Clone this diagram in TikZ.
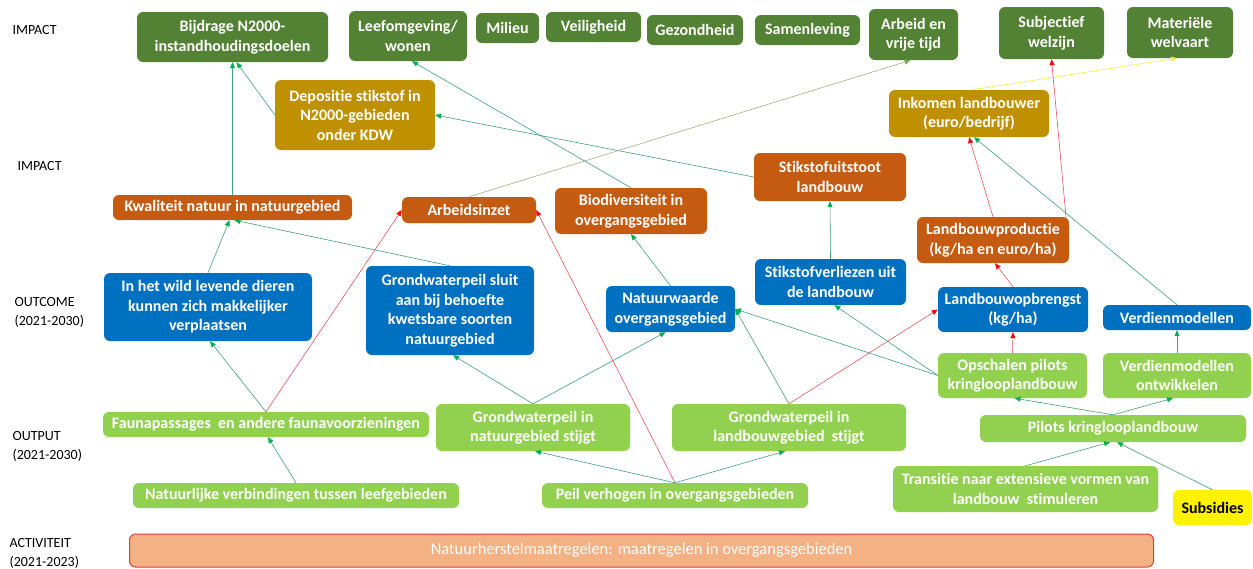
\documentclass[tikz,border=0pt]{standalone}
\usepackage{fontspec}
\setmainfont[Ligatures=NoCommon]{Carlito}
\usetikzlibrary{arrows.meta}
\definecolor{impgreen}{HTML}{548235}
\definecolor{impgold}{HTML}{BF9000}
\definecolor{efforange}{HTML}{C55A11}
\definecolor{outblue}{HTML}{0070C0}
\definecolor{outgreen}{HTML}{92D050}
\definecolor{actfill}{HTML}{F4B183}
\definecolor{actline}{HTML}{D84040}
\definecolor{linkgreen}{HTML}{3F9F7A}
\definecolor{tipgreen}{HTML}{00B050}
\definecolor{linkred}{HTML}{E8545A}
\definecolor{linkolive}{HTML}{A3AC7E}
\definecolor{tipolive}{HTML}{7AA85A}
\definecolor{linkyellow}{HTML}{F2EE3A}

\tikzset{
  wh/.style 2 args={minimum width=#1pt,minimum height=#2pt},
  box/.style={rounded corners=6pt,align=center,text=white,inner sep=1pt,
    font=\bfseries\fontsize{16}{19.5}\selectfont},
  impbox/.style={box,fill=impgreen},
  goldbox/.style={box,fill=impgold},
  effbox/.style={box,fill=efforange},
  outcbox/.style={box,fill=outblue},
  outpbox/.style={box,fill=outgreen},
  level/.style={anchor=west,align=left,font=\fontsize{14}{19}\selectfont},
  link/.style={draw=linkgreen,line width=0.6pt,-{Triangle[length=6pt,width=5pt,color=tipgreen]}},
  redlink/.style={draw=linkred,line width=0.6pt,-{Triangle[length=6pt,width=5pt,color=red]}},
}

\begin{document}
\begin{tikzpicture}[x=1pt,y=-1pt]
  \useasboundingbox (0,0) rectangle (1253,568);

  % levels
  \node[level] (lv1) at (9,30) {IMPACT};
  \node[level] (lv2) at (14,166) {IMPACT};
  \node[level] (lv3) at (11,312) {OUTCOME\\(2021-2030)};
  \node[level] (lv4) at (9,446) {OUTPUT\\(2021-2030)};
  \node[level] (lv5) at (6,553) {ACTIVITEIT\\(2021-2023)};

  % impact (top row)
  \node[impbox,wh={191}{50}] (bijd) at (232.5,37) {Bijdrage N2000-\\instandhoudingsdoelen};
  \node[impbox,wh={118}{50}] (leef) at (408,36) {Leefomgeving/\\wonen};
  \node[impbox,wh={63}{30}] (mil) at (507.5,28) {Milieu};
  \node[impbox,wh={95}{30}] (veil) at (593.5,27) {Veiligheid};
  \node[impbox,wh={96}{30}] (gez) at (695,30) {Gezondheid};
  \node[impbox,wh={105}{30}] (samen) at (807.5,30) {Samenleving};
  \node[impbox,wh={89}{51}] (arb) at (913.5,34.5) {Arbeid en\\vrije tijd};
  \node[impbox,wh={105}{52}] (subj) at (1051.5,33) {Subjectief\\welzijn};
  \node[impbox,wh={106}{51}] (mat) at (1180,32.5) {Materiële\\welvaart};

  \node[goldbox,wh={160}{70}] (depo) at (355,115) {Depositie stikstof in\\N2000-gebieden\\onder KDW};
  \node[goldbox,wh={160}{47}] (inkom) at (969,113.5) {Inkomen landbouwer\\(euro/bedrijf)};

  % impact (second row)
  \node[effbox,wh={239}{25}] (kwal) at (232.5,207.5) {Kwaliteit natuur in natuurgebied};
  \node[effbox,wh={134}{26}] (arbinz) at (469,210) {Arbeidsinzet};
  \node[effbox,wh={152}{46}] (biod) at (631,211) {Biodiversiteit in\\overgangsgebied};
  \node[effbox,wh={152}{48}] (stuit) at (830,177) {Stikstofuitstoot\\landbouw};
  \node[effbox,wh={152}{46}] (lprod) at (993,240) {Landbouwproductie\\(kg/ha en euro/ha)};

  % outcome
  \node[outcbox,wh={208}{68}] (wild) at (208,307) {In het wild levende dieren\\kunnen zich makkelijker\\verplaatsen};
  \node[outcbox,wh={168}{89}] (gws) at (450,310.5) {Grondwaterpeil sluit\\aan bij behoefte\\kwetsbare soorten\\natuurgebied};
  \node[outcbox,wh={129}{46}] (natw) at (670.5,309) {Natuurwaarde\\overgangsgebied};
  \node[outcbox,wh={151}{46}] (stver) at (830.5,282) {Stikstofverliezen uit\\de landbouw};
  \node[outcbox,wh={150}{45}] (lopb) at (1013,309.5) {Landbouwopbrengst\\(kg/ha)};
  \node[outcbox,wh={148}{25}] (verd) at (1177,317.5) {Verdienmodellen};

  % output
  \node[outpbox,wh={326}{25}] (fauna) at (266,424.5) {Faunapassages\ \ en andere faunavoorzieningen};
  \node[outpbox,wh={194}{47}] (gwn) at (533,427.5) {Grondwaterpeil in\\natuurgebied stijgt};
  \node[outpbox,wh={234}{47}] (gwl) at (789,427.5) {Grondwaterpeil in\\landbouwgebied\ \ stijgt};
  \node[outpbox,wh={149}{45}] (opsch) at (1012.5,375.5) {Opschalen pilots\\kringlooplandbouw};
  \node[outpbox,wh={148}{45}] (vontw) at (1177,375.5) {Verdienmodellen\\ontwikkelen};
  \node[outpbox,wh={266}{27}] (pilots) at (1113,428.5) {Pilots kringlooplandbouw};
  \node[outpbox,wh={326}{25}] (natver) at (296,495.5) {Natuurlijke verbindingen tussen leefgebieden};
  \node[outpbox,wh={266}{25}] (peil) at (675,495.5) {Peil verhogen in overgangsgebieden};
  \node[outpbox,wh={265}{46}] (trans) at (1025.5,489) {Transitie naar extensieve vormen van\\landbouw\ \ stimuleren};
  \node[box,fill=yellow,text=black,wh={79}{35}] (subs) at (1212.5,507.5) {Subsidies};

  % activiteit
  \node[box,fill=actfill,draw=actline,line width=1pt,wh={1024}{33}] (act) at (641.5,550.5)
    {\mdseries\fontsize{16.5}{19}\selectfont Natuurherstelmaatregelen: maatregelen in overgangsgebieden};

  % links
  \draw[link] (kwal.north) -- (bijd.south);
  \draw[link] (depo.west) -- ([xshift=4pt]bijd.south);
  \draw[link] (biod.north) -- ([xshift=4pt]leef.south);
  \draw[link] (stuit.west) -- (depo.east);
  \draw[draw=linkolive,line width=0.6pt,-{Triangle[length=6pt,width=5pt,color=tipolive]}]
    (arbinz.north) -- ([xshift=-3pt]arb.south);
  \draw[draw=linkyellow,line width=0.6pt,-{Triangle[length=6pt,width=5pt,color=linkyellow]}]
    ([xshift=3pt]inkom.north) -- ([xshift=-3pt]mat.south);
  \draw[redlink] ([xshift=73pt]lprod.north) -- (subj.south);
  \draw[redlink] (lprod.north) -- (inkom.south);
  \draw[link] (verd.north) -- ([xshift=5pt]inkom.south);
  \draw[link] (stver.north) -- (stuit.south);
  \draw[redlink] (lopb.north) -- ([xshift=2pt]lprod.south);
  \draw[link] (natw.north) -- (biod.south);
  \draw[link] (wild.north) -- ([xshift=-3pt]kwal.south);
  \draw[link] (gws.north) -- ([xshift=2pt]kwal.south);
  \draw[link] (fauna.north) -- ([xshift=2pt]wild.south);
  \draw[redlink] (fauna.north) -- (arbinz.west);
  \draw[link] (natver.north) -- ([xshift=2pt]fauna.south);
  \draw[link] (gwn.north) -- ([xshift=3pt]gws.south);
  \draw[link] (gwn.north) -- ([xshift=-5pt]natw.south);
  \draw[link] (peil.north) -- ([xshift=2pt]gwn.south);
  \draw[link] (peil.north) -- ([xshift=-4pt]gwl.south);
  \draw[redlink] (peil.north) -- (arbinz.east);
  \draw[link] (gwl.north) -- (natw.east);
  \draw[redlink] (gwl.north) -- (lopb.west);
  \draw[link] (opsch.west) -- (natw.east);
  \draw[link] (opsch.west) -- ([xshift=4pt]stver.south);
  \draw[redlink] (opsch.north) -- (lopb.south);
  \draw[link] (vontw.north) -- (verd.south);
  \draw[link] (pilots.north) -- ([xshift=2pt]opsch.south);
  \draw[link] (pilots.north) -- ([xshift=-4pt]vontw.south);
  \draw[link] (trans.north) -- ([xshift=-3pt]pilots.south);
  \draw[link] (subs.north) -- ([xshift=4pt]pilots.south);
\end{tikzpicture}
\end{document}
